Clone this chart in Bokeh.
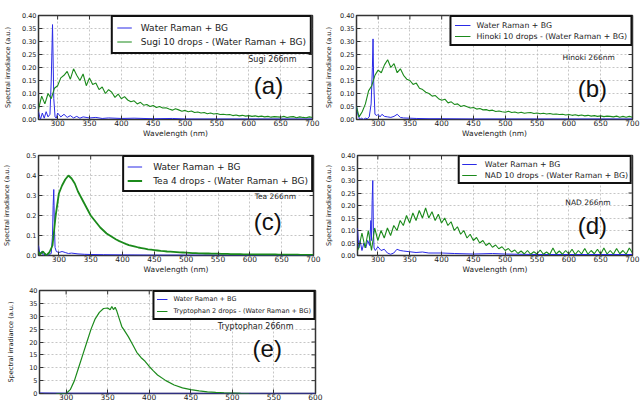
from bokeh.plotting import figure
from bokeh.models import (Legend, LegendItem, FixedTicker, PrintfTickFormatter,
                          Label, Range1d, ColumnDataSource)
from bokeh.layouts import column, row
from bokeh.embed import file_html
from bokeh.resources import INLINE

BLUE = "#2a2ae6"
GREEN = "#1b8a1b"
FONT = "DejaVu Sans"

# ---------------- data ----------------
WL_GRID = list(range(270, 701, 5))

# (a) Sugi
SUGI_WATER_X = [270, 273, 276, 279, 282, 285, 288, 290, 292, 294, 296, 298, 300, 305, 310, 315, 320,
                325, 330, 335, 340, 350, 360, 370, 380, 400, 420, 450, 480, 500, 550, 600, 650, 700]
SUGI_WATER_Y = [0.03, 0.0, 0.025, 0.005, 0.03, 0.01, 0.02, 0.15, 0.365, 0.08, 0.01, 0.005, 0.025, 0.01,
                0.02, 0.008, 0.015, 0.006, 0.012, 0.005, 0.01, 0.006, 0.008, 0.004, 0.006, 0.004, 0.005,
                0.003, 0.004, 0.002, 0.002, 0.002, 0.002, 0.002]
SUGI_X = WL_GRID
SUGI_Y = [0.04, 0.09, 0.06, 0.10, 0.08, 0.12, 0.13, 0.16, 0.17, 0.185,
          0.155, 0.195, 0.17, 0.15, 0.175, 0.13, 0.16, 0.135, 0.14, 0.115,
          0.125, 0.10, 0.115, 0.105, 0.085, 0.098, 0.08, 0.088, 0.075, 0.068,
          0.072, 0.06, 0.066, 0.055, 0.058, 0.05, 0.054, 0.046, 0.05, 0.044,
          0.045, 0.04, 0.036, 0.041, 0.037, 0.032, 0.035, 0.03, 0.033, 0.027,
          0.029, 0.025, 0.027, 0.022, 0.025, 0.021, 0.023, 0.019, 0.02, 0.018,
          0.019, 0.015, 0.017, 0.014, 0.016, 0.013, 0.015, 0.012, 0.014, 0.011,
          0.013, 0.01, 0.012, 0.009, 0.011, 0.01, 0.009, 0.012, 0.008, 0.01,
          0.011, 0.007, 0.01, 0.008, 0.007, 0.01, 0.008]

# (b) Hinoki
HINOKI_WATER_X = [266, 268, 271, 274, 277, 280, 283, 286, 289, 291, 292, 293, 295, 298, 300, 303, 306,
                  310, 315, 320, 325, 330, 335, 340, 350, 360, 380, 400, 450, 500, 550, 600, 650, 700]
HINOKI_WATER_Y = [0.05, 0.02, 0.0, 0.005, 0.0, 0.005, 0.003, 0.01, 0.06, 0.2, 0.31, 0.15, 0.02, 0.015,
                  0.02, 0.01, 0.02, 0.012, 0.01, 0.008, 0.012, 0.02, 0.008, 0.006, 0.005, 0.004, 0.003,
                  0.003, 0.002, 0.002, 0.002, 0.002, 0.002, 0.002]
HINOKI_X = [266] + WL_GRID
HINOKI_Y = [0.05,
            0.01, 0.03, 0.06, 0.11, 0.13, 0.17, 0.19, 0.18, 0.21, 0.23,
            0.20, 0.215, 0.18, 0.195, 0.17, 0.155, 0.15, 0.135, 0.14, 0.12,
            0.115, 0.105, 0.1, 0.09, 0.092, 0.08, 0.074, 0.078, 0.064, 0.068,
            0.058, 0.06, 0.05, 0.054, 0.049, 0.044, 0.046, 0.04, 0.042, 0.037,
            0.038, 0.034, 0.036, 0.031, 0.033, 0.03, 0.028, 0.032, 0.027, 0.029,
            0.025, 0.028, 0.024, 0.026, 0.027, 0.023, 0.025, 0.022, 0.024, 0.021,
            0.023, 0.02, 0.021, 0.019, 0.02, 0.017, 0.019, 0.016, 0.018, 0.015,
            0.017, 0.014, 0.016, 0.013, 0.015, 0.012, 0.014, 0.011, 0.013, 0.012,
            0.01, 0.013, 0.009, 0.012, 0.009, 0.012, 0.009]

# (c) Tea
TEA_WATER_X = [268, 270, 273, 276, 279, 282, 285, 288, 290, 291, 292, 293, 294, 296, 300, 305, 310,
               315, 320, 330, 340, 350, 370, 400, 450, 500, 550, 600, 650, 700]
TEA_WATER_Y = [0.05, 0.01, 0.02, 0.0, 0.01, 0.0, 0.005, 0.01, 0.1, 0.25, 0.33, 0.15, 0.04, 0.02,
               0.015, 0.02, 0.015, 0.01, 0.012, 0.008, 0.006, 0.005, 0.004, 0.003, 0.002, 0.002,
               0.002, 0.001, 0.001, 0.001]
TEA_X = [268] + WL_GRID
TEA_Y = [0.02,
         0.005, 0.02, 0.0, 0.015, 0.05, 0.2, 0.31, 0.35, 0.38, 0.40,
         0.385, 0.36, 0.32, 0.29, 0.26, 0.23, 0.20, 0.18, 0.16, 0.14,
         0.125, 0.11, 0.10, 0.09, 0.08, 0.072, 0.065, 0.058, 0.052, 0.048,
         0.044, 0.04, 0.037, 0.034, 0.031, 0.029, 0.027, 0.025, 0.023, 0.022,
         0.02, 0.019, 0.018, 0.017, 0.016, 0.015, 0.014, 0.013, 0.012, 0.012,
         0.011, 0.011, 0.01, 0.01, 0.009, 0.009, 0.009, 0.008, 0.008, 0.008,
         0.007, 0.007, 0.007, 0.007, 0.006, 0.006, 0.006, 0.006, 0.006, 0.005,
         0.005, 0.005, 0.005, 0.005, 0.005, 0.004, 0.004, 0.004, 0.004, 0.004,
         0.004, 0.004, 0.003, 0.003, 0.003, 0.003, 0.003]

# (d) NAD
NAD_WATER_X = [268, 270, 272, 275, 278, 281, 284, 287, 289, 290, 291, 292, 293, 294, 296, 300, 305,
               310, 315, 320, 325, 330, 335, 340, 350, 360, 370, 380, 400, 420, 450, 480, 500, 520,
               550, 600, 650, 700]
NAD_WATER_Y = [0.11, 0.03, 0.06, 0.02, 0.05, 0.03, 0.06, 0.04, 0.14, 0.06, 0.22, 0.30, 0.1, 0.03,
               0.02, 0.035, 0.02, 0.025, 0.01, 0.005, 0.01, 0.025, 0.02, 0.018, 0.015, 0.012, 0.014,
               0.01, 0.01, 0.008, 0.006, 0.008, 0.006, 0.005, 0.004, 0.004, 0.004, 0.004]
NAD_X = [268] + WL_GRID
NAD_Y = [0.02,
         0.03, 0.09, 0.03, 0.10, 0.02, 0.11, 0.06, 0.10, 0.07, 0.11,
         0.08, 0.12, 0.10, 0.14, 0.12, 0.16, 0.13, 0.17, 0.14, 0.18,
         0.15, 0.19, 0.15, 0.175, 0.14, 0.165, 0.13, 0.15, 0.12, 0.135,
         0.10, 0.115, 0.085, 0.10, 0.07, 0.085, 0.06, 0.072, 0.05, 0.06,
         0.04, 0.05, 0.033, 0.042, 0.027, 0.035, 0.02, 0.028, 0.014, 0.022,
         0.008, 0.018, 0.006, 0.02, 0.005, 0.015, 0.006, 0.022, 0.005, 0.014,
         0.004, 0.03, 0.006, 0.018, 0.005, 0.02, 0.006, 0.025, 0.004, 0.02,
         0.006, 0.028, 0.005, 0.02, 0.007, 0.025, 0.005, 0.03, 0.006, 0.02,
         0.005, 0.028, 0.007, 0.02, 0.005, 0.03, 0.01]

# (e) Tryptophan
TRP_WATER_X = [268, 300, 350, 400, 450, 500, 550, 600]
TRP_WATER_Y = [0.2, 0.1, 0.1, 0.05, 0.05, 0.05, 0.05, 0.05]
TRP_X = [288, 295, 300, 305, 310, 315, 320, 325, 330, 335, 340, 345, 350, 353, 355, 357, 359, 361,
         364, 367, 370, 375, 380, 385, 390, 395, 400, 405, 410, 420, 430, 440, 450, 460, 470, 480,
         490, 500, 510, 520]
TRP_Y = [0, 0, 0, 1.5, 5, 10, 15, 20, 25, 29, 31.5, 33, 33.2, 32.5, 33.8, 32.6, 33.5, 32, 29, 26,
         24.5, 22, 19, 16, 14, 12.5, 10.5, 8.8, 7.2, 5, 3.3, 2.2, 1.5, 1.0, 0.6, 0.4, 0.25, 0.15,
         0.05, 0]

X_TICKS_WIDE = [300, 350, 400, 450, 500, 550, 600, 650, 700]
X_TICKS_E = [300, 350, 400, 450, 500, 550, 600]
Y_TICKS_040 = [0.0, 0.05, 0.10, 0.15, 0.20, 0.25, 0.30, 0.35, 0.40]
Y_TICKS_05 = [0.0, 0.1, 0.2, 0.3, 0.4, 0.5]
Y_TICKS_40 = [0, 5, 10, 15, 20, 25, 30, 35, 40]

WATER_LABEL = "Water Raman + BG"


def make_panel(w, h, xr, yr, bl, br, bt, bb, xticks, yticks, yfmt, xlabel, ylab_standoff):
    p = figure(width=w, height=h, x_range=Range1d(*xr), y_range=Range1d(*yr),
               output_backend="svg", toolbar_location=None,
               min_border_left=bl, min_border_right=br, min_border_top=bt, min_border_bottom=bb,
               background_fill_color="white", border_fill_color="white")
    p.outline_line_color = "#333333"
    p.outline_line_width = 1.5
    p.xaxis.ticker = FixedTicker(ticks=xticks)
    p.yaxis.ticker = FixedTicker(ticks=yticks)
    p.yaxis.formatter = PrintfTickFormatter(format=yfmt)
    for ax in (p.xaxis[0], p.yaxis[0]):
        ax.axis_line_color = None
        ax.major_tick_in = 4
        ax.major_tick_out = 0
        ax.minor_tick_in = 0
        ax.minor_tick_out = 0
        ax.major_tick_line_color = "#333333"
        ax.major_label_text_font = FONT
        ax.major_label_text_color = "#222222"
        ax.axis_label_text_font = FONT
        ax.axis_label_text_font_style = "normal"
        ax.axis_label_text_color = "#222222"
    p.xaxis.major_label_text_font_size = "7.5px"
    p.yaxis.major_label_text_font_size = "6.5px"
    p.xaxis.major_label_standoff = 0
    p.yaxis.major_label_standoff = 2
    if xlabel:
        p.xaxis.axis_label = "Wavelength (nm)"
        p.xaxis.axis_label_text_font_size = "7.5px"
        p.xaxis.axis_label_standoff = 0
    p.yaxis.axis_label = "Spectral irradiance (a.u.)"
    p.yaxis.axis_label_text_font_size = "6.5px"
    p.yaxis.axis_label_standoff = ylab_standoff
    for g in (p.xgrid[0], p.ygrid[0]):
        g.grid_line_color = "#b8b8b8"
        g.grid_line_dash = "2 2"
        g.grid_line_width = 0.8
    p.xgrid.ticker = FixedTicker(ticks=xticks)
    p.ygrid.ticker = FixedTicker(ticks=yticks)
    # inward ticks on the top and right edges (half of each dash is clipped by the frame)
    p.scatter(x=xticks, y=[yr[1]] * len(xticks), marker="dash", angle=1.5708, size=8,
              line_color="#333333", line_width=1)
    p.scatter(x=[xr[1]] * len(yticks), y=yticks, marker="dash", size=8,
              line_color="#333333", line_width=1)
    return p


def add_series(p, wx, wy, gx, gy, green_label, fs, pad, gw, stand, lh, sp, gwidth=1.1):
    rb = p.line(x="x", y="y", source=ColumnDataSource(dict(x=wx, y=wy)),
                line_color=BLUE, line_width=1.0)
    rg = p.line(x="x", y="y", source=ColumnDataSource(dict(x=gx, y=gy)),
                line_color=GREEN, line_width=gwidth)
    leg = Legend(items=[LegendItem(label=WATER_LABEL, renderers=[rb]),
                        LegendItem(label=green_label, renderers=[rg])],
                 location="top_right", margin=0, padding=pad, spacing=sp,
                 glyph_width=gw, glyph_height=lh, label_height=lh, label_standoff=stand,
                 label_text_font_size=fs, label_text_font=FONT, label_text_color="#222222",
                 border_line_color="#111111", border_line_width=2, border_line_alpha=1.0,
                 background_fill_color="white", background_fill_alpha=1.0)
    p.add_layout(leg)


def add_texts(p, tx, ty, txt, tfs, px, py, ptxt):
    p.add_layout(Label(x=tx, y=ty, text=txt, text_font=FONT, text_font_size=tfs,
                       text_align="center", text_baseline="middle", text_color="#222222"))
    p.add_layout(Label(x=px, y=py, text=ptxt, text_font="Liberation Sans", text_font_size="24px",
                       text_align="center", text_baseline="middle", text_color="#111111"))


# (a)
pa = make_panel(322, 141, (270, 700), (0, 0.40), 38, 10, 15, 19, X_TICKS_WIDE, Y_TICKS_040, "%.2f", True, 7)
add_series(pa, SUGI_WATER_X, SUGI_WATER_Y, SUGI_X, SUGI_Y, "Sugi 10 drops - (Water Raman + BG)",
           "9px", 4, 15, 9, 13, 1)
add_texts(pa, 637, 0.232, "Sugi 266nm", "8px", 631, 0.131, "(a)")

# (b)
pb = make_panel(319, 141, (266, 700), (0, 0.40), 33, 9, 15, 22, X_TICKS_WIDE, Y_TICKS_040, "%.2f", True, 4)
add_series(pb, HINOKI_WATER_X, HINOKI_WATER_Y, HINOKI_X, HINOKI_Y,
           "Hinoki 10 drops - (Water Raman + BG)", "7.8px", 3, 16, 6, 10, 1)
add_texts(pb, 631, 0.238, "Hinoki 266nm", "7.5px", 637, 0.119, "(b)")

# (c)
pc = make_panel(322, 135, (268, 700), (0, 0.5), 38, 9, 14, 19, X_TICKS_WIDE, Y_TICKS_05, "%.1f", True, 12)
add_series(pc, TEA_WATER_X, TEA_WATER_Y, TEA_X, TEA_Y, "Tea 4 drops - (Water Raman + BG)",
           "9px", 3, 15, 11, 13, 1, gwidth=1.8)
add_texts(pc, 640, 0.294, "Tea 266nm", "7.5px", 628, 0.169, "(c)")

# (d)
pd_ = make_panel(319, 135, (268, 700), (0, 0.40), 34, 9, 14, 18, X_TICKS_WIDE, Y_TICKS_040, "%.2f", True, 5)
add_series(pd_, NAD_WATER_X, NAD_WATER_Y, NAD_X, NAD_Y, "NAD 10 drops - (Water Raman + BG)",
           "7.8px", 2, 15, 8, 10, 1)
add_texts(pd_, 630, 0.2136, "NAD 266nm", "7.5px", 637, 0.1215, "(d)")

# (e)
pe = make_panel(330, 127, (268, 600), (0, 40), 39, 15, 14, 10, X_TICKS_E, Y_TICKS_40, "%d", False, 11)
add_series(pe, TRP_WATER_X, TRP_WATER_Y, TRP_X, TRP_Y, "Tryptophan 2 drops - (Water Raman + BG)",
           "6.5px", 2, 11, 6, 10, 2, gwidth=1.2)
add_texts(pe, 528, 26.0, "Tryptophan 266nm", "8px", 542, 17.5, "(e)")

layout = column(row(pa, pb), row(pc, pd_), pe)
open("out.html", "w").write(file_html(layout, INLINE))
